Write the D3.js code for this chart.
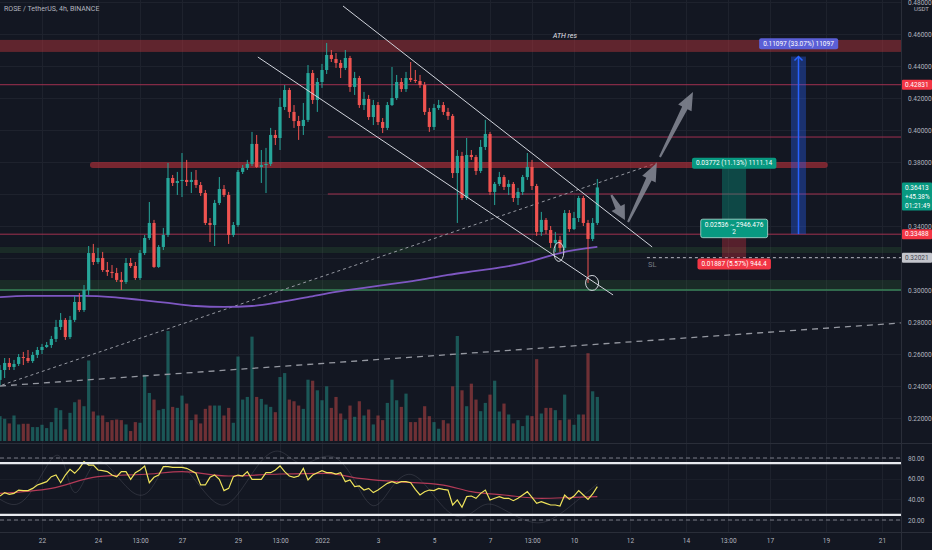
<!DOCTYPE html>
<html>
<head>
<meta charset="utf-8">
<script src="https://cdn.jsdelivr.net/npm/d3@7"></script>
<style>
html, body { margin: 0; padding: 0; background: #131722; }
svg { display: block; font-family: Roboto, "Liberation Sans", sans-serif; }
</style>
</head>
<body>
<div id="chart"></div>
<script>
// ---- candles (4h, ROSE/USDT) ----
var candleStart = "2021-12-20T12:00:00Z";
var firstOpen = 0.2438;
var closes = [0.2500,0.2544,0.2519,0.2538,0.2581,0.2575,0.2556,0.2594,0.2625,0.2644,
0.2656,0.2694,0.2769,0.2813,0.2706,0.2813,0.2925,0.2875,0.3000,0.3231,
0.3175,0.3200,0.3125,0.3113,0.3106,0.3063,0.3050,0.3169,0.3150,0.3075,
0.3231,0.3325,0.3419,0.3144,0.3269,0.3344,0.3700,0.3669,0.3681,0.3688,
0.3675,0.3688,0.3656,0.3606,0.3419,0.3406,0.3544,0.3631,0.3594,0.3344,
0.3406,0.3738,0.3763,0.3788,0.3913,0.3769,0.3781,0.3788,0.3969,0.3950,
0.4144,0.4250,0.4113,0.4056,0.4025,0.4063,0.4356,0.4188,0.4300,0.4375,
0.4469,0.4444,0.4419,0.4388,0.4450,0.4269,0.4325,0.4156,0.4194,0.4081,
0.4156,0.4050,0.4013,0.4156,0.4200,0.4300,0.4256,0.4325,0.4313,0.4306,
0.4281,0.4113,0.4019,0.4138,0.4156,0.4113,0.4088,0.3731,0.3838,0.3575,
0.3844,0.3831,0.3744,0.3894,0.3975,0.3613,0.3663,0.3706,0.3644,0.3663,
0.3575,0.3613,0.3706,0.3769,0.3650,0.3363,0.3438,0.3375,0.3294,0.3313,
0.3263,0.3481,0.3381,0.3450,0.3575,0.3419,0.3319,0.3419,0.3641];
var highs = [0.2531,0.2575,0.2575,0.2563,0.2600,0.2613,0.2625,0.2613,0.2644,0.2663,
0.2675,0.2713,0.2813,0.2856,0.2825,0.2838,0.2963,0.2981,0.3031,0.3275,
0.3288,0.3263,0.3238,0.3175,0.3156,0.3138,0.3113,0.3200,0.3200,0.3175,
0.3250,0.3344,0.3550,0.3438,0.3281,0.3388,0.3794,0.3719,0.3738,0.3856,
0.3813,0.3738,0.3750,0.3675,0.3625,0.3450,0.3563,0.3706,0.3656,0.3613,
0.3425,0.3750,0.3781,0.3813,0.3988,0.3969,0.3875,0.3888,0.4013,0.4000,
0.4200,0.4281,0.4263,0.4156,0.4088,0.4169,0.4406,0.4375,0.4325,0.4413,
0.4544,0.4500,0.4481,0.4438,0.4500,0.4463,0.4363,0.4338,0.4238,0.4219,
0.4188,0.4175,0.4075,0.4175,0.4394,0.4344,0.4325,0.4363,0.4425,0.4375,
0.4344,0.4300,0.4138,0.4163,0.4188,0.4175,0.4138,0.4100,0.3875,0.3863,
0.3950,0.3875,0.3844,0.3938,0.4063,0.3988,0.3675,0.3738,0.3719,0.3688,
0.3675,0.3638,0.3719,0.3856,0.3813,0.3663,0.3488,0.3450,0.3400,0.3363,
0.3338,0.3500,0.3500,0.3488,0.3588,0.3588,0.3438,0.3450,0.3694];
var lows = [0.2406,0.2450,0.2500,0.2500,0.2525,0.2531,0.2544,0.2544,0.2575,0.2600,
0.2638,0.2638,0.2675,0.2750,0.2688,0.2694,0.2800,0.2863,0.2863,0.2969,
0.3156,0.3163,0.3113,0.3088,0.3075,0.3050,0.3000,0.3038,0.3138,0.3063,
0.3063,0.3219,0.3313,0.3138,0.3138,0.3250,0.3331,0.3650,0.3594,0.3581,
0.3650,0.3606,0.3638,0.3588,0.3406,0.3300,0.3275,0.3531,0.3581,0.3288,
0.3331,0.3394,0.3725,0.3750,0.3775,0.3763,0.3669,0.3606,0.3775,0.3906,
0.3875,0.4125,0.4075,0.4013,0.3938,0.3969,0.4050,0.4163,0.4113,0.4263,
0.4350,0.4425,0.4388,0.4325,0.4375,0.4238,0.4219,0.4138,0.4125,0.4063,
0.4031,0.4031,0.3981,0.4000,0.4150,0.4188,0.4238,0.4238,0.4300,0.4294,
0.4263,0.4094,0.3988,0.4000,0.4125,0.4094,0.4063,0.3700,0.3419,0.3563,
0.3563,0.3813,0.3719,0.3731,0.3875,0.3594,0.3531,0.3650,0.3625,0.3594,
0.3550,0.3531,0.3594,0.3688,0.3625,0.3338,0.3338,0.3350,0.3263,0.3238,
0.3238,0.3250,0.3363,0.3375,0.3425,0.3400,0.3044,0.3306,0.3406];
var volumes = [75,67,53,77,50,52,52,42,42,49,
39,57,100,93,35,85,117,125,105,243,
89,77,77,57,63,65,63,50,30,57,
55,200,145,125,93,97,332,103,100,137,
113,63,80,53,97,107,107,107,77,100,
55,255,125,133,315,133,127,110,103,87,
193,205,125,120,107,97,185,182,153,123,
165,100,133,83,65,107,73,120,77,95,
50,77,63,115,185,123,103,143,57,57,
70,105,75,57,37,63,53,165,317,153,
105,173,125,90,115,140,182,89,113,80,
53,63,45,77,75,247,83,100,100,93,
63,140,65,49,80,80,265,150,133];

// moving average (purple), sampled per day
var maIdx = [0,6,12,18,24,30,36,42,48,54,60,66,72,78,84,90,96,102,108,114,120,128];
var maValues = [0.2956,0.2963,0.2963,0.2963,0.2956,0.2938,0.2919,0.2900,0.2894,0.2900,0.2925,
0.2956,0.2988,0.3013,0.3038,0.3063,0.3094,0.3119,0.3144,0.3181,0.3231,0.3269];

// RSI pane
var rsiValues = [43.2,46.5,44.8,45.8,49.0,48.4,48.4,50.6,53.9,55.5,
57.1,61.9,63.5,56.1,63.5,69.0,65.2,70.0,76.5,73.2,
73.2,68.4,67.7,66.8,63.5,61.9,66.8,66.8,59.4,65.8,
68.4,72.3,56.1,61.3,63.5,71.6,71.6,71.0,71.0,71.0,
70.0,67.7,65.2,53.9,53.9,61.3,63.5,59.4,48.4,50.6,
61.9,63.5,62.6,66.8,59.4,59.4,59.4,65.8,65.8,68.4,
72.3,66.8,62.6,61.3,62.6,70.0,58.7,63.5,65.8,67.7,
65.8,65.8,64.5,65.8,57.1,58.7,52.3,52.9,49.0,50.6,
46.5,49.0,52.3,55.5,57.1,55.5,57.1,57.1,56.1,49.7,
44.2,47.4,49.0,48.4,50.6,49.7,49.0,34.5,39.4,32.3,
42.6,43.2,41.0,45.8,49.0,39.4,41.0,42.6,41.0,41.0,
38.7,41.0,44.2,47.4,41.9,36.1,37.7,36.1,34.5,34.5,
33.5,44.2,40.0,43.2,48.4,44.2,40.0,45.2,52.3];
var rsiMaIdx = [0,11,21,32,39,49,60,70,77,85,95,101,108,116,123,128];
var rsiMaValues = [45.8,50.6,61.9,64.5,66.8,62.6,64.5,65.2,60.3,57.1,53.8,47.4,44.2,41.0,41.9,42.6];
var stochIdx = [0,4,8,12,14,16,20,24,28,32,36,40,44,48,52,56,60,64,68,72,76,80,84,88,92,96,100,104,108,112,116,120,124,128];
var stochValues = [40,30,55,90,75,30,85,70,45,40,85,70,45,28,50,80,92,70,80,85,60,22,55,70,50,25,20,40,30,20,15,25,40,55];
var rsiBands = [75, 25];
var rsiDashed = [80, 20];
var rsiTicks = [80, 60, 40, 20];

// axes
var priceTicks = [0.22,0.24,0.26,0.28,0.30,0.32,0.34,0.36,0.38,0.40,0.42,0.44,0.46,0.48];
var timeTicks = ["2021-12-22T00:00Z","2021-12-24T00:00Z","2021-12-25T12:00Z","2021-12-27T00:00Z","2021-12-29T00:00Z",
"2021-12-30T12:00Z","2022-01-01T00:00Z","2022-01-03T00:00Z","2022-01-05T00:00Z","2022-01-07T00:00Z",
"2022-01-08T12:00Z","2022-01-10T00:00Z","2022-01-12T00:00Z","2022-01-14T00:00Z","2022-01-15T12:00Z",
"2022-01-17T00:00Z","2022-01-19T00:00Z","2022-01-21T00:00Z"];
var timeLabels = ["22","24","13:00","27","29","13:00","2022","3","5","7","13:00","10","12","14","13:00","17","19","21"];

// drawings
var levelPrices = [0.42831, 0.3956, 0.36, 0.33488];
var levelStarts = [null, "2022-01-01T05:00Z", "2022-01-01T05:00Z", null];
var zoneTops = [0.4563, 0.3269, 0.3063];
var zoneBottoms = [0.4488, 0.3231, 0.3000];
var zoneKinds = ["res", "sup", "sup"];
var resBand = { price: 0.3781, from: "2021-12-23T19:40Z", to: "2022-01-18T23:00Z" };
var supportLine = 0.3000;
var channelLines = [
    [["2022-01-01T18:00Z", 0.4775], ["2022-01-12T19:00Z", 0.3269]],
    [["2021-12-29T17:00Z", 0.4456], ["2022-01-11T09:30Z", 0.2969]]
];
var trendShort = [["2021-12-20T13:45Z", 0.2406], ["2022-01-12T23:00Z", 0.3794]];
var trendLong = [["2021-12-20T12:00Z", 0.2400], ["2022-01-21T16:00Z", 0.2794]];
var arrows = [
    [["2022-01-11T08:00Z", 0.3594], ["2022-01-11T19:40Z", 0.3437]],
    [["2022-01-11T22:20Z", 0.3425], ["2022-01-12T23:00Z", 0.3794]],
    [["2022-01-13T01:40Z", 0.3831], ["2022-01-14T06:00Z", 0.4238]]
];
var circles = [["2022-01-09T11:00Z", 0.3238], ["2022-01-10T15:30Z", 0.3044]];
var slLine = { price: 0.32021, from: "2022-01-12T14:30Z" };
var slText = ["2022-01-12T15:30Z", 0.3163, "SL"];
var athText = ["2022-01-09T06:00Z", 0.4590, "ATH res"];
var position = { from: "2022-01-15T06:50Z", to: "2022-01-16T03:30Z", entry: 0.3349, target: 0.3769, stop: 0.3202 };
var positionTexts = [["0.03772 (11.13%) 1111.14"], ["0.02536 ~ 2946.476", "2"], ["0.01887 (5.57%) 944.4"]];
var range = { from: "2022-01-17T18:00Z", to: "2022-01-18T06:50Z", low: 0.3349, high: 0.4459, text: "0.11097 (33.07%) 11097" };
var badgePrices = [0.42831, 0.36413, 0.33488, 0.32021];
var badgeLines = [["0.42831"], ["0.36413", "+45.38%", "01:21:49"], ["0.33488"], ["0.32021"]];
var badgeFills = ["#f23645", "#089981", "#f23645", "#c3c5cc"];
var badgeText = ["#ffffff", "#ffffff", "#ffffff", "#434651"];

// ---- layout ----
var width = 932, height = 550, plotRight = 901, mainBottom = 443, rsiBottom = 532;
var up = "#26a69a", down = "#ef5350";
var smallFont = 6.5;

var x = d3.scaleUtc()
    .domain([new Date("2021-12-20T12:00Z"), new Date("2022-01-22T00:00Z")])
    .range([0, 910]);
var y = d3.scaleLinear().domain([0.22, 0.46]).range([418, 34]);
var yVol = d3.scaleLinear().domain([0, 332]).range([441, 331]);
var yRsi = d3.scaleLinear().domain([20, 80]).range([520, 458]);

var t0 = new Date(candleStart).getTime();
function tAt(i) { return new Date(t0 + i * 4 * 3600 * 1000); }
function d(s) { return new Date(s); }

var candles = closes.map(function (c, i) {
    return { t: tAt(i), o: i ? closes[i - 1] : firstOpen, h: highs[i], l: lows[i], c: c, v: volumes[i] };
});

var svg = d3.select("#chart").append("svg")
    .attr("width", width).attr("height", height);

svg.append("rect").attr("width", width).attr("height", height).attr("fill", "#131722");

var defs = svg.append("defs");
defs.append("clipPath").attr("id", "mainClip").append("rect")
    .attr("x", 0).attr("y", 0).attr("width", plotRight).attr("height", mainBottom);
defs.append("clipPath").attr("id", "rsiClip").append("rect")
    .attr("x", 0).attr("y", mainBottom).attr("width", plotRight).attr("height", rsiBottom - mainBottom);

// grid
var grid = svg.append("g");
grid.selectAll("line.h").data(priceTicks).enter().append("line")
    .attr("x1", 0).attr("x2", plotRight)
    .attr("y1", function (p) { return Math.round(y(p)) + 0.5; })
    .attr("y2", function (p) { return Math.round(y(p)) + 0.5; })
    .attr("stroke", "#1e222d");
grid.selectAll("line.rh").data(rsiTicks).enter().append("line")
    .attr("x1", 0).attr("x2", plotRight)
    .attr("y1", function (v) { return Math.round(yRsi(v)) + 0.5; })
    .attr("y2", function (v) { return Math.round(yRsi(v)) + 0.5; })
    .attr("stroke", "#1a1e29");
grid.selectAll("line.v").data(timeTicks).enter().append("line")
    .attr("x1", function (s) { return Math.round(x(d(s))) + 0.5; })
    .attr("x2", function (s) { return Math.round(x(d(s))) + 0.5; })
    .attr("y1", 0).attr("y2", rsiBottom)
    .attr("stroke", "#1e222d");

var main = svg.append("g").attr("clip-path", "url(#mainClip)");

// zones
zoneTops.forEach(function (top, k) {
    main.append("rect")
        .attr("x", 0).attr("width", plotRight)
        .attr("y", y(top)).attr("height", y(zoneBottoms[k]) - y(top))
        .attr("fill", zoneKinds[k] == "res" ? "rgba(190,55,62,0.45)" : "rgba(76,175,80,0.13)");
});
main.append("line")
    .attr("x1", 0).attr("x2", plotRight)
    .attr("y1", y(supportLine)).attr("y2", y(supportLine))
    .attr("stroke", "#3f9a63").attr("stroke-width", 1.5).attr("opacity", 0.8);

// level lines
levelPrices.forEach(function (p, k) {
    main.append("line")
        .attr("x1", levelStarts[k] ? x(d(levelStarts[k])) : 0).attr("x2", plotRight)
        .attr("y1", y(p)).attr("y2", y(p))
        .attr("stroke", "#a0304f").attr("stroke-width", 1);
});

// volume
var bw = 3.2;
main.selectAll("rect.vol").data(candles).enter().append("rect")
    .attr("x", function (c) { return x(c.t) - bw / 2; })
    .attr("width", bw)
    .attr("y", function (c) { return yVol(c.v); })
    .attr("height", function (c) { return yVol(0) - yVol(c.v); })
    .attr("fill", function (c) { return c.c >= c.o ? "rgba(38,166,154,0.45)" : "rgba(239,83,80,0.42)"; });

// trend lines (dashed)
var lineGen = d3.line()
    .x(function (q) { return x(d(q[0])); })
    .y(function (q) { return y(q[1]); });
main.append("path").attr("d", lineGen(trendLong))
    .attr("stroke", "#9598a1").attr("stroke-width", 1.3).attr("stroke-dasharray", "6,5").attr("fill", "none");
main.append("path").attr("d", lineGen(trendShort))
    .attr("stroke", "#9598a1").attr("stroke-width", 1).attr("stroke-dasharray", "3,3").attr("fill", "none");

// resistance band
main.append("line")
    .attr("x1", x(d(resBand.from))).attr("x2", x(d(resBand.to)))
    .attr("y1", y(resBand.price)).attr("y2", y(resBand.price))
    .attr("stroke", "rgba(190,48,58,0.6)").attr("stroke-width", 6).attr("stroke-linecap", "round");

// moving average
var maLine = d3.line()
    .x(function (v, k) { return x(tAt(maIdx[k])); })
    .y(function (v) { return y(v); })
    .curve(d3.curveMonotoneX);
main.append("path").attr("d", maLine(maValues))
    .attr("stroke", "#7e57c2").attr("stroke-width", 1.8).attr("fill", "none");

// candles
var cg = main.selectAll("g.candle").data(candles).enter().append("g");
cg.append("line")
    .attr("x1", function (c) { return x(c.t); })
    .attr("x2", function (c) { return x(c.t); })
    .attr("y1", function (c) { return y(c.h); })
    .attr("y2", function (c) { return y(c.l); })
    .attr("stroke", function (c) { return c.c >= c.o ? up : down; })
    .attr("stroke-width", 1);
cg.append("rect")
    .attr("x", function (c) { return x(c.t) - bw / 2; })
    .attr("width", bw)
    .attr("y", function (c) { return y(Math.max(c.o, c.c)); })
    .attr("height", function (c) { return Math.max(1, Math.abs(y(c.o) - y(c.c))); })
    .attr("fill", function (c) { return c.c >= c.o ? up : down; });

// channel
channelLines.forEach(function (seg) {
    main.append("path").attr("d", lineGen(seg))
        .attr("stroke", "#d1d4dc").attr("stroke-width", 1).attr("fill", "none");
});

// arrows
function arrowPoints(x1, y1, x2, y2) {
    var dx = x2 - x1, dy = y2 - y1, len = Math.sqrt(dx * dx + dy * dy);
    var ux = dx / len, uy = dy / len, nx = -uy, ny = ux;
    var hl = Math.min(18, len * 0.5), bx = x2 - ux * hl, by = y2 - uy * hl;
    var hw = Math.min(7.5, len * 0.28);
    return [[x1 + nx, y1 + ny], [bx + nx * 3, by + ny * 3], [bx + nx * hw, by + ny * hw], [x2, y2],
        [bx - nx * hw, by - ny * hw], [bx - nx * 3, by - ny * 3], [x1 - nx, y1 - ny]];
}
arrows.forEach(function (a) {
    var pts = arrowPoints(x(d(a[0][0])), y(a[0][1]), x(d(a[1][0])), y(a[1][1]));
    main.append("polygon")
        .attr("points", pts.map(function (p) { return p.join(","); }).join(" "))
        .attr("fill", "#878b96").attr("opacity", 0.85);
});

// circles
circles.forEach(function (c, k) {
    main.append("ellipse")
        .attr("cx", x(d(c[0]))).attr("cy", y(c[1]))
        .attr("rx", k ? 6.5 : 5).attr("ry", k ? 7.5 : 9.5)
        .attr("fill", "none").attr("stroke", "#d1d4dc").attr("stroke-width", 1);
});

// SL line + text
main.append("line")
    .attr("x1", x(d(slLine.from))).attr("x2", plotRight)
    .attr("y1", y(slLine.price)).attr("y2", y(slLine.price))
    .attr("stroke", "#b2b5be").attr("stroke-dasharray", "3,3");
main.append("text")
    .attr("x", x(d(slText[0]))).attr("y", y(slText[1]))
    .attr("dy", "0.35em").attr("font-size", 7.5).attr("fill", "#787b86")
    .text(slText[2]);
main.append("text")
    .attr("x", x(d(athText[0]))).attr("y", y(athText[1]))
    .attr("dy", "0.35em").attr("font-size", 7).attr("font-style", "italic").attr("fill", "#e0e3eb")
    .text(athText[2]);

// labels with boxes
function tag(parent, cx, cy, lines, fill, color, stroke) {
    var g = parent.append("g");
    var rect = g.append("rect").attr("fill", fill).attr("rx", 2);
    if (stroke) rect.attr("stroke", stroke).attr("stroke-width", 0.8);
    var t = g.append("text").attr("text-anchor", "middle").attr("font-size", smallFont).attr("fill", color);
    lines.forEach(function (s, k) {
        t.append("tspan").attr("x", cx)
            .attr("y", cy + (k - (lines.length - 1) / 2) * 7.5)
            .attr("dy", "0.35em").text(s);
    });
    var bb = t.node().getBBox();
    rect.attr("x", bb.x - 4).attr("y", bb.y - 1.5).attr("width", bb.width + 8).attr("height", bb.height + 3);
}

// long position
var px1 = x(d(position.from)), px2 = x(d(position.to)), pcx = (px1 + px2) / 2;
main.append("rect").attr("x", px1).attr("width", px2 - px1)
    .attr("y", y(position.target)).attr("height", y(position.entry) - y(position.target))
    .attr("fill", "rgba(8,153,129,0.38)");
main.append("rect").attr("x", px1).attr("width", px2 - px1)
    .attr("y", y(position.entry)).attr("height", y(position.stop) - y(position.entry))
    .attr("fill", "rgba(242,54,69,0.3)");
tag(main, pcx, y(position.target) - 4, positionTexts[0], "#089981", "#ffffff");
tag(main, pcx, y(position.entry) - 6, positionTexts[1], "#089981", "#ffffff", "#b2dfd6");
tag(main, pcx, y(position.stop) + 6, positionTexts[2], "#f23645", "#ffffff");

// price range
var rx1 = x(d(range.from)), rx2 = x(d(range.to)), rcx = (rx1 + rx2) / 2;
main.append("rect").attr("x", rx1).attr("width", rx2 - rx1)
    .attr("y", y(range.high)).attr("height", y(range.low) - y(range.high))
    .attr("fill", "rgba(41,98,255,0.35)");
main.append("line").attr("x1", rcx).attr("x2", rcx)
    .attr("y1", y(range.low)).attr("y2", y(range.high))
    .attr("stroke", "#2962ff").attr("stroke-width", 1.5);
main.append("path")
    .attr("d", "M" + (rcx - 4) + "," + (y(range.high) + 4) + "L" + rcx + "," + y(range.high) + "L" + (rcx + 4) + "," + (y(range.high) + 4))
    .attr("stroke", "#2962ff").attr("stroke-width", 1.5).attr("fill", "none");
tag(main, rcx, y(range.high) - 13, [range.text], "#5b5fd6", "#ffffff");

// ---- RSI pane ----
var rsi = svg.append("g").attr("clip-path", "url(#rsiClip)");
rsiDashed.forEach(function (v) {
    rsi.append("line").attr("x1", 0).attr("x2", plotRight)
        .attr("y1", yRsi(v)).attr("y2", yRsi(v))
        .attr("stroke", "#787b86").attr("stroke-dasharray", "4,3");
});
var stochLine = d3.line()
    .x(function (v, k) { return x(tAt(stochIdx[k])); })
    .y(function (v) { return yRsi(v); })
    .curve(d3.curveBasis);
rsi.append("path").attr("d", stochLine(stochValues))
    .attr("stroke", "rgba(178,181,190,0.16)").attr("stroke-width", 1).attr("fill", "none");
var rsiMaLine = d3.line()
    .x(function (v, k) { return x(tAt(rsiMaIdx[k])); })
    .y(function (v) { return yRsi(v); })
    .curve(d3.curveMonotoneX);
rsi.append("path").attr("d", rsiMaLine(rsiMaValues))
    .attr("stroke", "#b33a57").attr("stroke-width", 1.2).attr("fill", "none");
var rsiLine = d3.line()
    .x(function (v, i) { return x(tAt(i)); })
    .y(function (v) { return yRsi(v); });
rsi.append("path").attr("d", rsiLine(rsiValues))
    .attr("stroke", "#f0e45c").attr("stroke-width", 1.2).attr("fill", "none");
rsiBands.forEach(function (v) {
    rsi.append("line").attr("x1", 0).attr("x2", plotRight)
        .attr("y1", yRsi(v)).attr("y2", yRsi(v))
        .attr("stroke", "#e8eaef").attr("stroke-width", 2.2);
});

// separators
svg.append("line").attr("x1", 0).attr("x2", width).attr("y1", mainBottom + 0.5).attr("y2", mainBottom + 0.5).attr("stroke", "#2a2e39");
svg.append("line").attr("x1", 0).attr("x2", width).attr("y1", rsiBottom + 0.5).attr("y2", rsiBottom + 0.5).attr("stroke", "#2a2e39");
svg.append("line").attr("x1", plotRight + 0.5).attr("x2", plotRight + 0.5).attr("y1", 0).attr("y2", height).attr("stroke", "#2a2e39");

// price axis
var hidden = [0.36, 0.32];
var yAxis = svg.append("g")
    .attr("transform", "translate(" + (plotRight + 4) + ",0)")
    .call(d3.axisRight(y).tickValues(priceTicks.filter(function (p) { return hidden.indexOf(p) < 0; }))
        .tickSize(0).tickFormat(d3.format(".5f")));
yAxis.select(".domain").remove();
yAxis.selectAll("text").attr("font-size", smallFont).attr("fill", "#b2b5be").attr("font-family", "Roboto, sans-serif");
svg.append("text").attr("x", plotRight + 13).attr("y", 9).attr("dy", "0.35em")
    .attr("font-size", 6).attr("fill", "#b2b5be").text("USDT");

// RSI axis
var rAxis = svg.append("g")
    .attr("transform", "translate(" + (plotRight + 4) + ",0)")
    .call(d3.axisRight(yRsi).tickValues(rsiTicks).tickSize(0).tickFormat(d3.format(".2f")));
rAxis.select(".domain").remove();
rAxis.selectAll("text").attr("font-size", smallFont).attr("fill", "#b2b5be").attr("font-family", "Roboto, sans-serif");

// time axis
var xAxis = svg.append("g")
    .attr("transform", "translate(0," + (rsiBottom + 3) + ")")
    .call(d3.axisBottom(x).tickValues(timeTicks.map(d)).tickSize(0)
        .tickFormat(function (t, i) { return timeLabels[i]; }));
xAxis.select(".domain").remove();
xAxis.selectAll("text").attr("font-size", smallFont).attr("fill", "#b2b5be").attr("font-family", "Roboto, sans-serif");

// axis badges
badgePrices.forEach(function (p, k) {
    var lines = badgeLines[k];
    var top = y(p) - 5;
    svg.append("rect").attr("x", plotRight + 1).attr("width", width - plotRight - 1)
        .attr("y", top).attr("height", lines.length * 9 + 1)
        .attr("fill", badgeFills[k]).attr("rx", 1);
    var t = svg.append("text").attr("font-size", smallFont).attr("fill", badgeText[k]);
    lines.forEach(function (s, j) {
        t.append("tspan").attr("x", plotRight + 4).attr("y", y(p) + j * 9).attr("dy", "0.35em").text(s);
    });
});

// title
svg.append("text").attr("x", 4).attr("y", 11)
    .attr("font-size", 7).attr("fill", "#b2b5be")
    .text("ROSE / TetherUS, 4h, BINANCE");
</script>
</body>
</html>
